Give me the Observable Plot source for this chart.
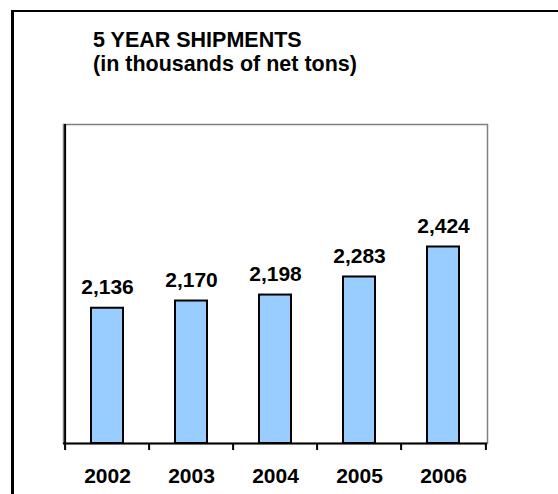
<!DOCTYPE html>
<html>
<head>
<meta charset="utf-8">
<script src="https://cdn.jsdelivr.net/npm/d3@7"></script>
<script src="https://cdn.jsdelivr.net/npm/@observablehq/plot@0.6"></script>
<style>
  body { margin: 0; background: #fff; }
  #chart { position: relative; width: 558px; height: 494px; overflow: hidden;
           font-family: Arial, "Liberation Sans", sans-serif; }
  #box { position: absolute; left: 11px; top: 10px; width: 620px; height: 620px;
         border-top: 2px solid #000; border-left: 3px solid #000; }
  #title { position: absolute; left: 93px; top: 28px; font-size: 21.5px; font-weight: bold;
           line-height: 24px; color: #000; white-space: nowrap; }
  #chart svg { position: absolute; left: 0; top: 0; }
</style>
</head>
<body>
<div id="chart">
  <div id="box"></div>
  <div id="title">5 YEAR SHIPMENTS<br>(in thousands of net tons)</div>
</div>
<script>
// Shipments per year, thousands of net tons
const years = ["2002", "2003", "2004", "2005", "2006"];
const shipments = [2136, 2170, 2198, 2283, 2424];
const yDomain = [1500, 3000];

const data = years.map((year, i) => ({year, value: shipments[i]}));

const W = 558, H = 494;
const mL = 63, mR = 71, mT = 124, mB = 51;
const step = (W - mL - mR) / years.length;
const barInset = 26;
const tickLen = 7;
const plotH = H - mT - mB;

const chart = Plot.plot({
  width: W,
  height: H,
  marginLeft: mL,
  marginRight: mR,
  marginTop: mT,
  marginBottom: mB,
  style: {
    fontFamily: 'Arial, "Liberation Sans", sans-serif',
    fontSize: "21px",
    fontWeight: "bold",
    color: "#000",
    background: "transparent",
    overflow: "visible"
  },
  x: {domain: years, padding: 0, tickSize: 0, tickPadding: 25, label: null},
  y: {domain: yDomain, axis: null},
  marks: [
    Plot.frame({stroke: "#808080", strokeWidth: 1.5}),
    Plot.barY(data, {
      x: "year", y1: yDomain[0], y2: "value",
      fill: "#99CCFF", stroke: "#000", strokeWidth: 2,
      insetLeft: barInset, insetRight: barInset
    }),
    Plot.text(data, {
      x: "year", y: "value", text: d => d3.format(",")(d.value),
      lineAnchor: "bottom", dy: -14, fontSize: 21, fontWeight: "bold", fill: "#000"
    }),
    // axis lines
    Plot.ruleY([yDomain[0]], {stroke: "#000", strokeWidth: 2}),
    Plot.ruleX([years[0]], {dx: -step / 2, stroke: "#000", strokeWidth: 2}),
    // category boundary ticks below the axis
    Plot.ruleX(years, {dx: -step / 2, stroke: "#000", strokeWidth: 2,
      insetTop: plotH - tickLen, dy: tickLen}),
    Plot.ruleX([years[years.length - 1]], {dx: step / 2, stroke: "#000", strokeWidth: 2,
      insetTop: plotH - tickLen, dy: tickLen})
  ]
});

document.getElementById("chart").appendChild(chart);
</script>
</body>
</html>
